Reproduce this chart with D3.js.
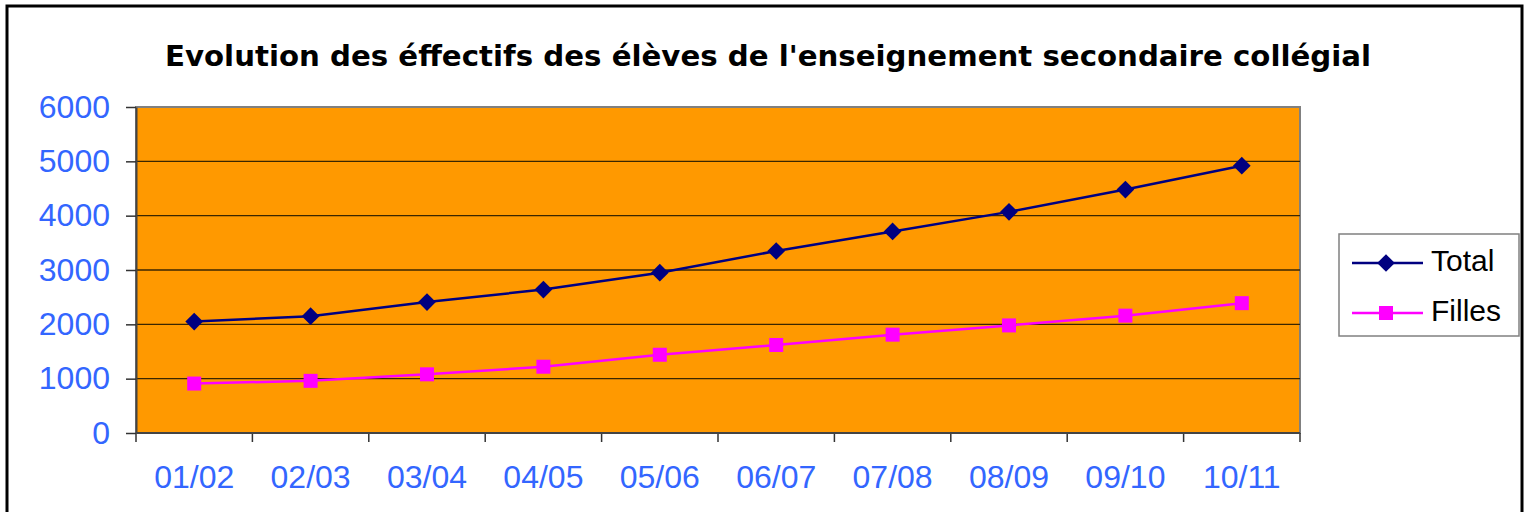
<!DOCTYPE html>
<html lang="fr">
<head>
<meta charset="UTF-8">
<title>Evolution des effectifs</title>
<script src="https://d3js.org/d3.v7.min.js"></script>
<style>
  body { margin: 0; background: #fff; }
  svg text { font-family: "Liberation Sans", Arial, sans-serif; }
</style>
</head>
<body>
<svg id="chart" width="1529" height="512"></svg>
<script>
// data
const years = ["01/02", "02/03", "03/04", "04/05", "05/06", "06/07", "07/08", "08/09", "09/10", "10/11"];
const total = [2050, 2150, 2410, 2640, 2950, 3350, 3710, 4070, 4480, 4920];
const filles = [910, 960, 1080, 1220, 1440, 1620, 1810, 1980, 2160, 2390];
const yTicks = [0, 1000, 2000, 3000, 4000, 5000, 6000];

const svg = d3.select("#chart");

// outer frame
svg.append("rect")
    .attr("x", 7).attr("y", 6)
    .attr("width", 1515).attr("height", 520)
    .attr("fill", "none").attr("stroke", "#000").attr("stroke-width", 3);

// title
svg.append("text")
    .attr("x", 768).attr("y", 66)
    .attr("text-anchor", "middle")
    .attr("textLength", 1206)
    .attr("lengthAdjust", "spacingAndGlyphs")
    .style("font-family", "'DejaVu Sans', sans-serif")
    .style("font-weight", "bold")
    .style("font-size", "29px")
    .text("Evolution des éffectifs des élèves de l'enseignement secondaire collégial");

// plot area
const plotL = 136, plotR = 1300, plotT = 107, plotB = 433;

const x = d3.scaleBand().domain(years).range([plotL, plotR]);
const y = d3.scaleLinear().domain([0, 6000]).range([plotB, plotT]);

svg.append("rect")
    .attr("x", plotL).attr("y", plotT)
    .attr("width", plotR - plotL).attr("height", plotB - plotT)
    .attr("fill", "#ff9900")
    .attr("stroke", "#808080").attr("stroke-width", 2);

// gridlines
svg.append("g")
    .selectAll("line")
    .data(yTicks.filter(d => d > 0 && d < 6000))
    .enter().append("line")
    .attr("x1", plotL).attr("x2", plotR)
    .attr("y1", d => y(d)).attr("y2", d => y(d))
    .attr("stroke", "#3a2600").attr("stroke-width", 1.3);

// y axis
const yAxis = svg.append("g")
    .attr("transform", `translate(${plotL},0)`)
    .call(d3.axisLeft(y).tickValues(yTicks).tickFormat(d3.format("d"))
        .tickSize(10).tickPadding(16).tickSizeOuter(0));
yAxis.select(".domain").attr("stroke", "#444").attr("stroke-width", 2);
yAxis.selectAll(".tick line").attr("stroke", "#333").attr("stroke-width", 1.5);
yAxis.selectAll("text")
    .attr("fill", "#3366ff")
    .style("font-size", "32px")
    .style("font-family", "'Liberation Sans', Arial, sans-serif");

// x axis: ticks on band boundaries
const bounds = years.map(d => x(d)).concat([plotR]);
svg.append("g")
    .selectAll("line")
    .data(bounds)
    .enter().append("line")
    .attr("x1", d => d).attr("x2", d => d)
    .attr("y1", plotB).attr("y2", plotB + 9)
    .attr("stroke", "#333").attr("stroke-width", 1.5);
svg.append("line")
    .attr("x1", plotL).attr("x2", plotR)
    .attr("y1", plotB).attr("y2", plotB)
    .attr("stroke", "#444").attr("stroke-width", 2);

svg.append("g")
    .selectAll("text")
    .data(years)
    .enter().append("text")
    .attr("x", d => x(d) + x.bandwidth() / 2)
    .attr("y", 488)
    .attr("text-anchor", "middle")
    .attr("fill", "#3366ff")
    .style("font-size", "32px")
    .text(d => d);

// lines
const cx = (d, i) => x(years[i]) + x.bandwidth() / 2;
const line = d3.line().x(cx).y(d => y(d));

svg.append("path").datum(total)
    .attr("d", line).attr("fill", "none")
    .attr("stroke", "#000080").attr("stroke-width", 2.5);
svg.append("path").datum(filles)
    .attr("d", line).attr("fill", "none")
    .attr("stroke", "#ff00ff").attr("stroke-width", 2.5);

const diamond = d3.symbol().type(d3.symbolDiamond2).size(200);
svg.append("g").selectAll("path")
    .data(total).enter().append("path")
    .attr("transform", (d, i) => `translate(${cx(d, i)},${y(d)})`)
    .attr("d", diamond)
    .attr("fill", "#000080");

svg.append("g").selectAll("rect")
    .data(filles).enter().append("rect")
    .attr("x", (d, i) => cx(d, i) - 7)
    .attr("y", d => y(d) - 7)
    .attr("width", 14).attr("height", 14)
    .attr("fill", "#ff00ff");

// legend
const legend = svg.append("g");
legend.append("rect")
    .attr("x", 1339).attr("y", 234)
    .attr("width", 180).attr("height", 102)
    .attr("fill", "#fff").attr("stroke", "#808080").attr("stroke-width", 1.5);

const items = [
    { name: "Total", color: "#000080", yy: 263, shape: "diamond" },
    { name: "Filles", color: "#ff00ff", yy: 313, shape: "square" }
];
items.forEach(it => {
    legend.append("line")
        .attr("x1", 1352).attr("x2", 1423)
        .attr("y1", it.yy).attr("y2", it.yy)
        .attr("stroke", it.color).attr("stroke-width", 2.5);
    if (it.shape === "diamond") {
        legend.append("path")
            .attr("transform", `translate(1386,${it.yy})`)
            .attr("d", diamond).attr("fill", it.color);
    } else {
        legend.append("rect")
            .attr("x", 1379).attr("y", it.yy - 7)
            .attr("width", 14).attr("height", 14)
            .attr("fill", it.color);
    }
    legend.append("text")
        .attr("x", 1431).attr("y", it.yy + 8)
        .style("font-size", "30px")
        .attr("fill", "#000")
        .text(it.name);
});
</script>
</body>
</html>
